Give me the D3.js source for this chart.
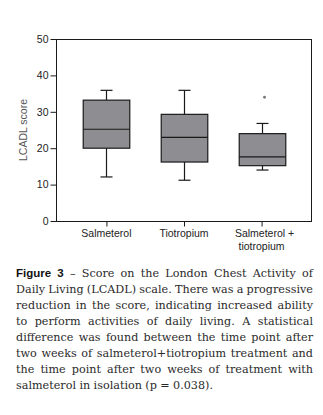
<!DOCTYPE html>
<html><head><meta charset="utf-8">
<script src="https://cdn.jsdelivr.net/npm/d3@7"></script>
<style>
html,body{margin:0;padding:0;background:#fff;}
svg{display:block;}
</style></head>
<body>
<svg id="c" width="323" height="415"></svg>
<script>
// ---- data ----
const categories = ["Salmeterol", "Tiotropium", "Salmeterol + tiotropium"];
const categoryLines = [["Salmeterol"], ["Tiotropium"], ["Salmeterol +", "tiotropium"]];
const whiskerLow  = [12.1, 11.2, 14.0];
const q1          = [20.0, 16.2, 15.2];
const median      = [25.2, 23.0, 17.6];
const q3          = [33.2, 29.3, 24.0];
const whiskerHigh = [35.9, 35.9, 26.8];
const outliers    = [[], [], [34.0]];
const yTicks = [0, 10, 20, 30, 40, 50];
const yLabel = "LCADL score";
const captionLines = [
  "Figure 3 – Score on the London Chest Activity of",
  "Daily Living (LCADL) scale. There was a progressive",
  "reduction in the score, indicating increased ability",
  "to perform activities of daily living. A statistical",
  "difference was found between the time point after",
  "two weeks of salmeterol+tiotropium treatment and",
  "the time point after two weeks of treatment with",
  "salmeterol in isolation (p = 0.038)."
];

// ---- layout ----
const svg = d3.select("#c");
svg.append("rect").attr("width", 323).attr("height", 415).attr("fill", "#fff");
const L = 56, R = 312, T = 39, B = 221;
const x = d3.scalePoint().domain(categories).range([L, R]).padding(0.65);
const y = d3.scaleLinear().domain([0, 50]).range([B, T]);
const boxW = x.step() * 0.6, capW = 12;
const sans = "'Liberation Sans', Arial, sans-serif";

// frame
svg.append("rect").attr("x", L + 0.5).attr("y", T + 0.5)
  .attr("width", R - L - 1).attr("height", B - T)
  .attr("fill", "none").attr("stroke", "#1a1a1a").attr("stroke-width", 1);

// y axis
const ya = svg.append("g").attr("transform", `translate(${L + 0.5},0)`)
  .call(d3.axisLeft(y).tickValues(yTicks).tickSize(6).tickSizeOuter(0).tickPadding(2));
ya.select(".domain").remove();
ya.selectAll("line").attr("stroke", "#1a1a1a");
ya.selectAll("text").attr("font-family", sans).attr("font-size", 10.5).attr("fill", "#222");

// x axis
const xa = svg.append("g").attr("transform", `translate(0,${B + 0.5})`)
  .call(d3.axisBottom(x).tickSize(5).tickSizeOuter(0));
xa.select(".domain").remove();
xa.selectAll("line").attr("stroke", "#1a1a1a");
xa.selectAll("text").remove();
categories.forEach((c, i) => {
  categoryLines[i].forEach((ln, j) => {
    svg.append("text").attr("x", x(c) + (j === 0 && categoryLines[i].length > 1 ? 3 : 0))
      .attr("y", 237 + j * 13).attr("text-anchor", "middle")
      .attr("font-family", sans).attr("font-size", 10.5).attr("fill", "#222").text(ln);
  });
});

// y label
svg.append("text").attr("transform", `translate(27,${(T + B) / 2}) rotate(-90)`)
  .attr("text-anchor", "middle").attr("font-family", sans).attr("font-size", 10.5)
  .attr("fill", "#555").text(yLabel);

// boxes
const g = svg.append("g");
categories.forEach((c, i) => {
  const cx = Math.round(x(c)) + 0.5;
  const st = "#1a1a1a";
  g.append("line").attr("x1", cx).attr("x2", cx).attr("y1", y(whiskerHigh[i])).attr("y2", y(q3[i])).attr("stroke", st).attr("stroke-width", 1.2);
  g.append("line").attr("x1", cx).attr("x2", cx).attr("y1", y(q1[i])).attr("y2", y(whiskerLow[i])).attr("stroke", st).attr("stroke-width", 1.2);
  g.append("line").attr("x1", cx - capW / 2).attr("x2", cx + capW / 2).attr("y1", y(whiskerHigh[i])).attr("y2", y(whiskerHigh[i])).attr("stroke", st).attr("stroke-width", 1.2);
  g.append("line").attr("x1", cx - capW / 2).attr("x2", cx + capW / 2).attr("y1", y(whiskerLow[i])).attr("y2", y(whiskerLow[i])).attr("stroke", st).attr("stroke-width", 1.2);
  g.append("rect").attr("x", cx - boxW / 2).attr("y", y(q3[i])).attr("width", boxW)
    .attr("height", y(q1[i]) - y(q3[i])).attr("fill", "#8e8e92").attr("stroke", st).attr("stroke-width", 1.2);
  g.append("line").attr("x1", cx - boxW / 2).attr("x2", cx + boxW / 2).attr("y1", y(median[i])).attr("y2", y(median[i])).attr("stroke", st).attr("stroke-width", 1.2);
  outliers[i].forEach(v => {
    g.append("circle").attr("cx", cx + 2).attr("cy", y(v)).attr("r", 1.4).attr("fill", "#777");
  });
});

// caption (justified)
const capL = 16, capR = 313, capW2 = capR - capL;
const serif = "'DejaVu Serif', 'Liberation Serif', serif";
const capSize = 11.2, boldSize = 11.5;
captionLines.forEach((line, li) => {
  const words = line.split(" ");
  const by = 276.5 + li * 16;
  const nodes = words.map((w, wi) => {
    const bold = li === 0 && wi < 2;
    const t = svg.append("text").attr("y", by)
      .attr("font-family", bold ? sans : serif)
      .attr("font-weight", bold ? 900 : 400)
      .attr("font-size", bold ? boldSize : capSize)
      .attr("fill", bold ? "#111" : "#2a2a2a").text(w);
    return t;
  });
  let widths = nodes.map(n => n.node().getComputedTextLength());
  let total = d3.sum(widths);
  const last = li === captionLines.length - 1;
  const minGap = 2.8;
  if (!last && total + minGap * (words.length - 1) > capW2) {
    const k = (capW2 - minGap * (words.length - 1)) / total;
    nodes.forEach((n, j) => {
      const bold = li === 0 && j < 2;
      n.attr("font-size", (bold ? boldSize : capSize) * k);
    });
    widths = nodes.map(n => n.node().getComputedTextLength());
    total = d3.sum(widths);
  }
  const gap = last ? 3.4 : (capW2 - total) / (words.length - 1);
  let cx = capL;
  nodes.forEach((n, k) => { n.attr("x", cx); cx += widths[k] + gap; });
});
</script>
</body></html>
